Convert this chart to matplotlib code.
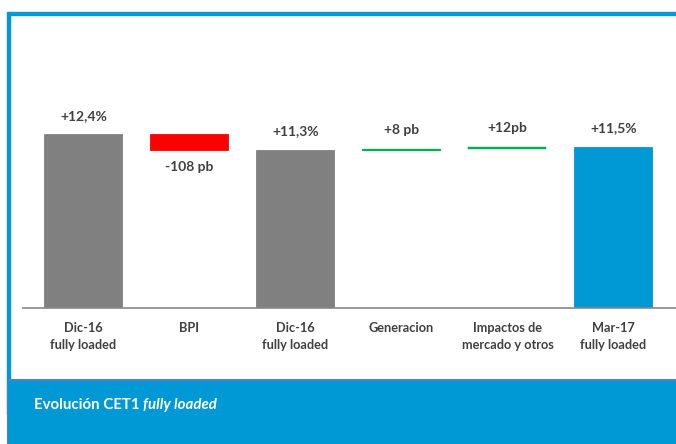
import matplotlib.pyplot as plt
from matplotlib.patches import Rectangle, FancyBboxPatch

plt.rcParams['font.family'] = ['Lato', 'DejaVu Sans']

categories = ["Dic-16\nfully loaded", "BPI", "Dic-16\nfully loaded",
              "Generacion", "Impactos de\nmercado y otros", "Mar-17\nfully loaded"]
value_labels = ["+12,4%", "-108 pb", "+11,3%", "+8 pb", "+12pb", "+11,5%"]
# waterfall: totals in %, steps in % (1 pb = 0.01 %)
values = [12.4, -1.08, 11.3, 0.08, 0.12, 11.5]
is_total = [True, False, True, False, False, True]
colors = ["#808080", "#FF0000", "#808080", "#00B050", "#00B050", "#0099D6"]

BLUE = "#0099D6"
TEXT = "#404040"

fig = plt.figure(figsize=(6.76, 4.44), dpi=100)
W, H = 676, 444

# frame lines top / left
fig.patches.append(Rectangle((7 / W, 1 - 15 / H), 1, 2.5 / H, transform=fig.transFigure,
                             color=BLUE, zorder=0))
fig.patches.append(Rectangle((7 / W, 30 / H), 2.5 / W, 1 - 45 / H, transform=fig.transFigure,
                             color=BLUE, zorder=0))
# bottom band
band = FancyBboxPatch((7.5 / W, -10 / H), 1, (64 + 10) / H, transform=fig.transFigure,
                      boxstyle="round,pad=0,rounding_size=0.012", facecolor=BLUE,
                      edgecolor="#4F7FC0", linewidth=0.8, zorder=1)
fig.patches.append(band)
fig.patches.append(Rectangle((8.5 / W, 0), 1, 64 / H, transform=fig.transFigure,
                             facecolor=BLUE, edgecolor="none", zorder=1))
fig.patches.append(Rectangle((8 / W, 63.5 / H), 1, 1.2 / H, transform=fig.transFigure,
                             facecolor="#4F7FC0", edgecolor="none", zorder=1))

t1 = fig.text(34 / W, 39 / H, "Evolución CET1 ", color="white", fontsize=10.8,
              fontweight="bold", va="center", ha="left", zorder=3)
fig.canvas.draw()
bb = t1.get_window_extent()
fig.text(bb.x1 / W, 39 / H, "fully loaded", color="white", fontsize=10.8,
         fontweight="bold", style="italic", va="center", ha="left", zorder=3)

ax = fig.add_axes([23 / W, 136 / H, 653 / W, 288 / H])

x = list(range(len(categories)))
bottoms, heights = [], []
level = 0
for v, tot in zip(values, is_total):
    if tot:
        bottoms.append(0)
        heights.append(v)
        level = v
    else:
        if v < 0:
            bottoms.append(level + v)
            heights.append(-v)
        else:
            bottoms.append(level)
            heights.append(v)
        level += v

lws = [0.6, 0.6, 0.6, 0.9, 0.3, 0.6]
ax.bar(x, heights, bottom=bottoms, width=0.735, color=colors,
       edgecolor=colors, linewidth=lws)

for i, (lab, v) in enumerate(zip(value_labels, values)):
    top = bottoms[i] + heights[i]
    if v < 0:
        ax.annotate(lab, (i, bottoms[i]), xytext=(0, -8), textcoords="offset points",
                    ha="center", va="top", fontsize=10, fontweight="bold", color=TEXT)
    else:
        ax.annotate(lab, (i, top), xytext=(0, 9), textcoords="offset points",
                    ha="center", va="bottom", fontsize=10, fontweight="bold", color=TEXT)

ax.set_xlim(-0.57, 5.59)
ax.set_ylim(0, 20.57)
ax.set_xticks(x)
ax.set_xticklabels(categories, fontsize=9.2, fontweight="bold", color=TEXT,
                   linespacing=1.55)
ax.tick_params(axis="x", length=0, pad=10)
ax.set_yticks([])
for s in ["top", "right", "left"]:
    ax.spines[s].set_visible(False)
ax.spines["bottom"].set_color("#888888")
ax.spines["bottom"].set_linewidth(1.2)
ax.patch.set_alpha(0)

fig.savefig("out.png", dpi=100)
